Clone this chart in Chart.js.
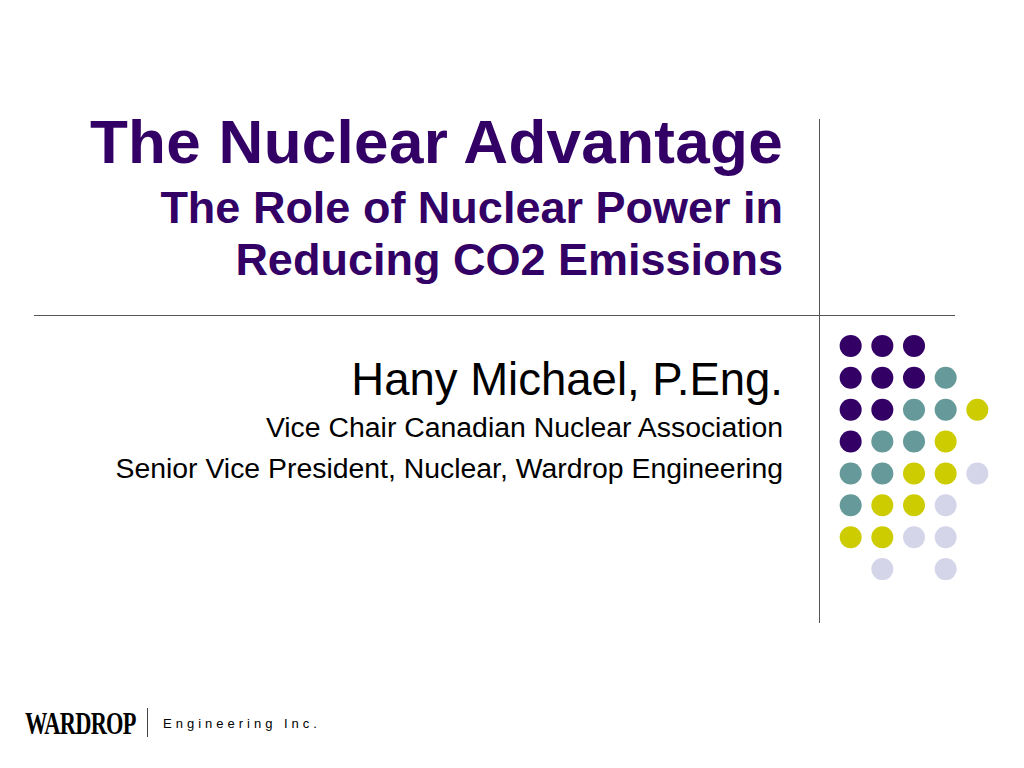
<!DOCTYPE html>
<html>
<head>
<meta charset="utf-8">
<script src="https://cdn.jsdelivr.net/npm/chart.js@4.4.0/dist/chart.umd.min.js"></script>
<style>
  html, body { margin: 0; padding: 0; background: #fff; }
  body { width: 1024px; height: 768px; position: relative; overflow: hidden; font-family: "Liberation Sans", Arial, sans-serif; }
  .t { position: absolute; right: 241px; white-space: nowrap; text-align: right; line-height: 1; }
  .title { color: #330066; font-weight: bold; }
  .line { position: absolute; background: #555; }
  #dots-box { position: absolute; left: 819px; top: 314px; width: 190px; height: 287px; }
</style>
</head>
<body>

<div class="t title" style="top: 111px; font-size: 62px; letter-spacing: 0.3px;">The Nuclear Advantage</div>
<div class="t title" style="top: 185px; font-size: 45px;">The Role of Nuclear Power in</div>
<div class="t title" style="top: 237px; font-size: 45px;">Reducing CO2 Emissions</div>

<div class="t" style="top: 357px; font-size: 45.5px; color:#000;">Hany Michael, P.Eng.</div>
<div class="t" style="top: 413px; font-size: 28.4px; color:#000;">Vice Chair Canadian Nuclear Association</div>
<div class="t" style="top: 454px; font-size: 28.4px; color:#000;">Senior Vice President, Nuclear, Wardrop Engineering</div>

<div class="line" style="left: 819px; top: 119px; width: 1px; height: 504px;"></div>
<div class="line" style="left: 34px; top: 315px; width: 921px; height: 1px;"></div>

<div id="dots-box"><canvas id="dots"></canvas></div>

<div style="position:absolute; left:25px; top:705px; font-family:'Liberation Serif', serif; font-weight:bold; font-size:32px; color:#000; transform:scaleX(0.7); transform-origin:left top; letter-spacing:-1px;">WARDROP</div>
<div class="line" style="left: 147px; top: 708px; width: 1px; height: 29px; background:#444;"></div>
<div style="position:absolute; left:163px; top:716px; font-size:13px; letter-spacing:4px; color:#000;">Engineering Inc.</div>

<script>
// dot grid positions: [column, row]
const purpleDots = [[1,1],[2,1],[3,1],[1,2],[2,2],[3,2],[1,3],[2,3],[1,4]];
const tealDots = [[4,2],[3,3],[4,3],[2,4],[3,4],[1,5],[2,5],[1,6]];
const yellowDots = [[5,3],[4,4],[3,5],[4,5],[2,6],[3,6],[1,7],[2,7]];
const lavenderDots = [[5,5],[4,6],[3,7],[4,7],[2,8],[4,8]];

function toPoints(list) {
    return list.map(d => ({ x: d[0], y: d[1] }));
}

function dotSet(label, list, color) {
    return {
        label: label,
        data: toPoints(list),
        backgroundColor: color,
        borderColor: color,
        pointRadius: 11,
        pointHoverRadius: 11,
        borderWidth: 0
    };
}

const ctx = document.getElementById('dots').getContext('2d');
let dotChart = new Chart(ctx, {
    type: 'scatter',
    data: {
        datasets: [
            dotSet('purple', purpleDots, '#330066'),
            dotSet('teal', tealDots, '#669999'),
            dotSet('yellow', yellowDots, '#CCCC00'),
            dotSet('lavender', lavenderDots, '#D5D5EA')
        ]
    },
    options: {
        responsive: true,
        maintainAspectRatio: false,
        animation: false,
        layout: { padding: 0, autoPadding: false },
        plugins: { legend: { display: false }, tooltip: { enabled: false } },
        scales: {
            x: { type: 'linear', min: 0, max: 6, display: false },
            y: { type: 'linear', min: 0, max: 9, reverse: true, display: false }
        }
    }
});
</script>
</body>
</html>
